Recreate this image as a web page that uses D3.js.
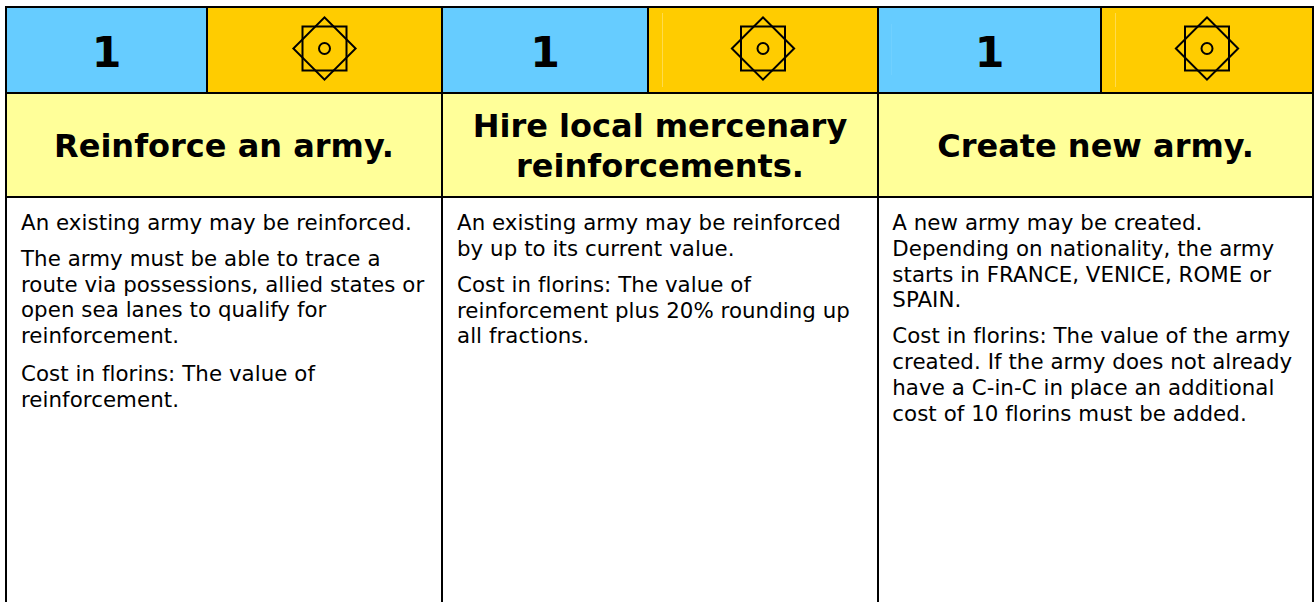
<!DOCTYPE html>
<html>
<head>
<meta charset="utf-8">
<script src="https://cdnjs.cloudflare.com/ajax/libs/d3/7.8.5/d3.min.js"></script>
<style>
html, body {margin: 0; padding: 0; background: #fff; overflow: hidden;}
text {font-family: Verdana, "DejaVu Sans", sans-serif; fill: #000;}
</style>
</head>
<body>
<div id="chart"></div>
<script>
//The card values and texts.
let costs = [1, 1, 1];
let titles = [
    ["Reinforce an army."],
    ["Hire local mercenary", "reinforcements."],
    ["Create new army."]
];
let bodies = [
    [["An existing army may be reinforced."],
     ["The army must be able to trace a", "route via possessions, allied states or", "open sea lanes to qualify for", "reinforcement."],
     ["Cost in florins: The value of", "reinforcement."]],
    [["An existing army may be reinforced", "by up to its current value."],
     ["Cost in florins: The value of", "reinforcement plus 20% rounding up", "all fractions."]],
    [["A new army may be created.", "Depending on nationality, the army", "starts in FRANCE, VENICE, ROME or", "SPAIN."],
     ["Cost in florins: The value of the army", "created. If the army does not already", "have a C-in-C in place an additional", "cost of 10 florins must be added."]]
];

let width = 1314, height = 602;
let svg = d3.select("#chart").append("svg")
            .attr("width", width)
            .attr("height", height)
            .style("display", "block");

//One band per card, the edges fall on the black rules.
let xScaler = d3.scaleLinear().domain([0, 1, 2, 3]).range([6, 442, 878, 1313]);
let splits = [207, 648, 1101];
let textX = [21, 457, 892.3];
let parY = [[230, 265.7, 381], [230, 291.7], [230, 343.3]];
let lineStep = 25.8;
let rowY = {top: 7, head: 93, title: 197, bottom: 602};

let cards = svg.selectAll("g.card").data(costs).enter().append("g").attr("class", "card");

cards.append("rect").attr("x", (d, i) => xScaler(i)).attr("y", rowY.top)
     .attr("width", (d, i) => splits[i] - xScaler(i)).attr("height", rowY.head - rowY.top)
     .attr("fill", "#66ccff");
cards.append("rect").attr("x", (d, i) => splits[i]).attr("y", rowY.top)
     .attr("width", (d, i) => xScaler(i + 1) - splits[i]).attr("height", rowY.head - rowY.top)
     .attr("fill", "#ffcc00");
cards.append("rect").attr("x", (d, i) => xScaler(i)).attr("y", rowY.head)
     .attr("width", (d, i) => xScaler(i + 1) - xScaler(i)).attr("height", rowY.title - rowY.head)
     .attr("fill", "#ffff99");

//Faint seams in the coloured header cells.
[[662.5, 13, 87, "#ffdb4d"], [1115.5, 13, 87, "#ffdb4d"], [891.5, 24, 75, "#70d0ff"]].forEach(s => {
    svg.append("line").attr("x1", s[0]).attr("x2", s[0]).attr("y1", s[1]).attr("y2", s[2])
       .attr("stroke", s[3]).attr("stroke-width", 1);
});

//Cost number.
cards.append("text")
     .attr("x", (d, i) => (xScaler(i) + splits[i]) / 2)
     .attr("y", 67)
     .attr("text-anchor", "middle")
     .style("font-size", "42.67px").style("font-weight", "bold")
     .text(d => d);

//Star symbol: two squares and a ring.
let icon = cards.append("g")
     .attr("transform", (d, i) => "translate(" + ((splits[i] + xScaler(i + 1)) / 2) + ",48.5)")
     .attr("fill", "none").attr("stroke", "#000").attr("stroke-width", 2);
icon.append("rect").attr("x", -22).attr("y", -22).attr("width", 44).attr("height", 44);
icon.append("rect").attr("x", -22).attr("y", -22).attr("width", 44).attr("height", 44).attr("transform", "rotate(45)");
icon.append("circle").attr("r", 5.5);

//Titles.
cards.each(function(d, i) {
    let g = d3.select(this);
    let lines = titles[i];
    lines.forEach((line, k) => {
        g.append("text")
         .attr("x", (xScaler(i) + xScaler(i + 1)) / 2)
         .attr("y", 157 + (k - (lines.length - 1) / 2) * 40)
         .attr("text-anchor", "middle")
         .style("font-size", "32px").style("font-weight", "bold")
         .text(line);
    });

    //Body paragraphs.
    bodies[i].forEach((par, p) => {
        par.forEach((line, k) => {
            g.append("text")
             .attr("x", textX[i])
             .attr("y", parY[i][p] + k * lineStep)
             .style("font-size", "21.33px")
             .style("letter-spacing", "0.06px")
             .text(line);
        });
    });
});

//Black rules.
let rules = svg.append("g").attr("stroke", "#000").attr("stroke-width", 2);
[rowY.top, rowY.head, rowY.title].forEach(y => {
    rules.append("line").attr("x1", 5).attr("x2", 1314).attr("y1", y).attr("y2", y);
});
d3.range(4).forEach(i => {
    rules.append("line").attr("x1", xScaler(i)).attr("x2", xScaler(i)).attr("y1", 6).attr("y2", height);
});
splits.forEach(x => {
    rules.append("line").attr("x1", x).attr("x2", x).attr("y1", rowY.top).attr("y2", rowY.head);
});
</script>
</body>
</html>
